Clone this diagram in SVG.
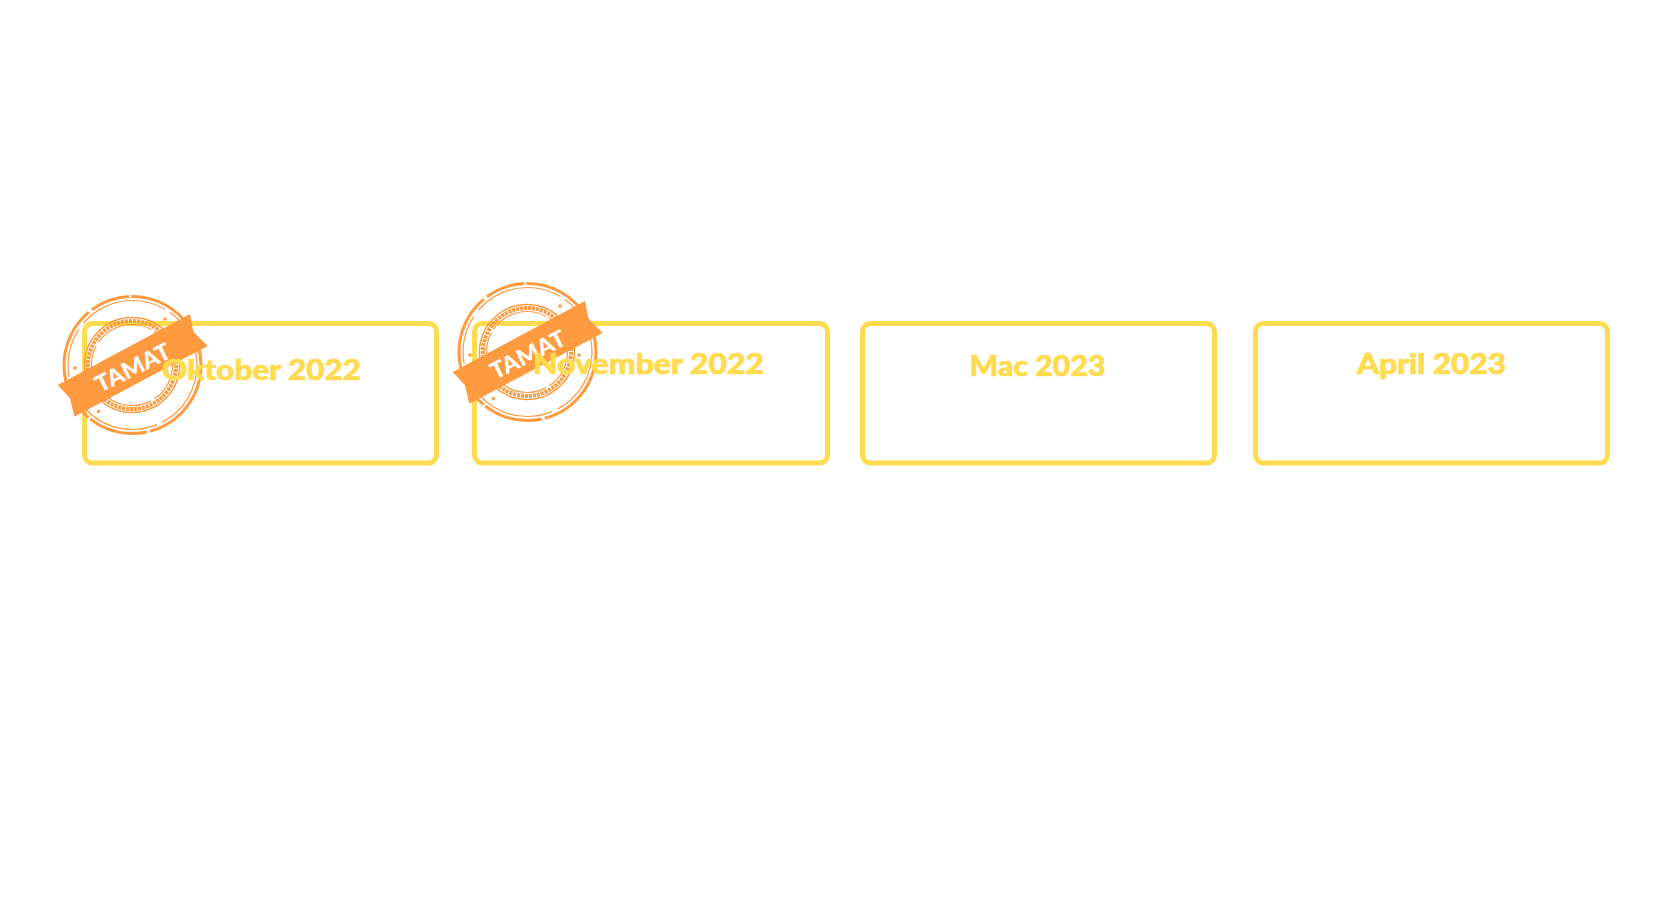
<svg xmlns="http://www.w3.org/2000/svg" width="1680" height="900" viewBox="0 0 1680 900">
<style>
.card{fill:#fff;stroke:#ffdb4f;stroke-width:5}
.lbl{font-family:"Lato","Liberation Sans",sans-serif;font-weight:900;font-size:28.5px;fill:#ffdb4f;stroke:#ffdb4f;stroke-width:.7;text-anchor:middle}
.ring{fill:none;stroke:#ff9a40}
.tamat{font-family:"Lato","Liberation Sans",sans-serif;font-weight:900;font-size:23px;fill:#fff;text-anchor:middle}
</style>
<defs>
<g id="stamp">
<circle class="ring" cx="132.5" cy="365" r="68.500" stroke-width="3" stroke-dasharray="90 3 60 2 120 4 40 2 70 3"/>
<circle class="ring" cx="132.500" cy="365" r="64.500" stroke-width="1.200" stroke-dasharray="70 6 110 4 50 8 90 5"/>
<circle class="ring" cx="132" cy="365" r="47.500" stroke-width="1.500"/>
<circle class="ring" cx="132" cy="365" r="44" stroke-width="4" stroke-dasharray="3 1"/>
<circle class="ring" cx="132" cy="365" r="40.500" stroke-width="1.200" stroke-dasharray="40 4 60 3"/>
<g fill="#ff9a40"><circle cx="165" cy="319" r="1.800"/><circle cx="75" cy="368" r="1.800"/><circle cx="98.500" cy="411.500" r="1.800"/><circle cx="184" cy="368" r="1.800"/></g>
<polygon points="190,314 193.300,331.700 207.700,346 74.300,416.700 70,398.300 57.700,385" fill="#ff9a40"/>
<text class="tamat" transform="translate(136.500,375) rotate(-26.500)" textLength="81" lengthAdjust="spacingAndGlyphs">TAMAT</text>
</g>
</defs>
<g id="node-oktober"><rect class="card" x="84.500" y="323.500" width="352" height="139.500" rx="8"/><use href="#stamp"/><text class="lbl" x="261.500" y="380" textLength="199" lengthAdjust="spacingAndGlyphs">Oktober 2022</text></g>
<g id="node-november"><rect class="card" x="474.500" y="323.500" width="353" height="139.500" rx="8"/><use href="#stamp" transform="translate(395,-13)"/><text class="lbl" x="648.500" y="374" textLength="231" lengthAdjust="spacingAndGlyphs">November 2022</text></g>
<g id="node-mac"><rect class="card" x="862.500" y="323.500" width="352" height="139.500" rx="8"/><text class="lbl" x="1037.500" y="375.500" textLength="136" lengthAdjust="spacingAndGlyphs">Mac 2023</text></g>
<g id="node-april"><rect class="card" x="1255.500" y="323.500" width="352" height="139.500" rx="8"/><text class="lbl" x="1431.500" y="374" textLength="149" lengthAdjust="spacingAndGlyphs">April 2023</text></g>
<g id="connectors"/>
</svg>
